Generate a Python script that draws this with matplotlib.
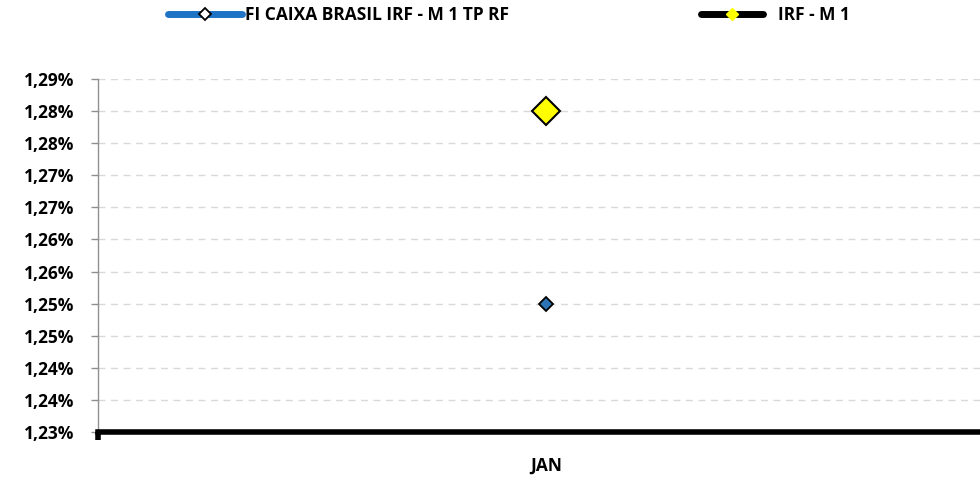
import matplotlib
matplotlib.use("Agg")
import matplotlib.pyplot as plt
from matplotlib.lines import Line2D
import matplotlib.markers as mmarkers

categories = ["JAN"]
fund_name = "FI CAIXA BRASIL IRF - M 1 TP RF"
bench_name = "IRF - M 1"
fund_values = [1.25]
bench_values = [1.28]
y_ticks = [1.230, 1.235, 1.240, 1.245, 1.250, 1.255, 1.260, 1.265, 1.270, 1.275, 1.280, 1.285]
y_tick_labels = ["1,23%", "1,24%", "1,24%", "1,25%", "1,25%", "1,26%", "1,26%",
                 "1,27%", "1,27%", "1,28%", "1,28%", "1,29%"]

plt.rcParams['font.family'] = ['Open Sans', 'DejaVu Sans']

fig = plt.figure(figsize=(9.8, 4.78), dpi=100)
W, H = 980, 478
left, right, top, bottom = 98, 980, 79, 432
ax = fig.add_axes([left / W, 1 - bottom / H, (right - left) / W, (bottom - top) / H])

x = list(range(len(categories)))
blue = "#1F73C4"
ax.plot(x, fund_values, color=blue, lw=4, marker="D", markersize=7,
        markerfacecolor="#2E75B6", markeredgecolor="black", markeredgewidth=1.3, zorder=5)
ax.plot(x, bench_values, color="black", lw=4, marker="D", markersize=14,
        markerfacecolor="#FFFF00", markeredgecolor="black", markeredgewidth=1.5, zorder=5)

ax.set_ylim(y_ticks[0], y_ticks[-1])
ax.set_yticks(y_ticks)
ax.set_yticklabels(y_tick_labels, fontsize=12.5, fontweight="bold")
ax.set_xlim(-0.508, 0.492)
ax.set_xticks(x)
ax.set_xticklabels(categories, fontsize=12.5, fontweight="bold")
ax.tick_params(axis="x", length=0, pad=18)
ax.tick_params(axis="y", direction="out", length=5, color="#909090", width=1, pad=12)

ax.grid(axis="y", color="#D9D9D9", linestyle=(0, (5, 4)), linewidth=1)
ax.set_axisbelow(True)
for s in ["top", "right"]:
    ax.spines[s].set_visible(False)
ax.spines["left"].set_color("#909090")
ax.spines["left"].set_linewidth(1)
ax.spines["bottom"].set_color("black")
ax.spines["bottom"].set_linewidth(4)
ax.spines["bottom"].set_zorder(6)

# small tick at left corner of the x axis
ax.plot([-0.508], [y_ticks[0]], marker=mmarkers.TICKDOWN, color="black",
        markersize=6, markeredgewidth=4, clip_on=False, zorder=7)

h1 = Line2D([], [], color=blue, lw=5, marker="D", markersize=6,
            markerfacecolor="white", markeredgecolor="black", markeredgewidth=1.3,
            solid_capstyle="round")
h2 = Line2D([], [], color="black", lw=5, marker="D", markersize=6,
            markerfacecolor="#FFFF00", markeredgecolor="#FFFF00",
            solid_capstyle="round")
fs = 12.5
fig.legend([h1], [fund_name], loc="center left", bbox_to_anchor=(152 / W, 1 - 15 / H),
           frameon=False, handlelength=74 / (fs * 100 / 72), handletextpad=0.2,
           prop={"weight": "bold", "size": fs})
fig.legend([h2], [bench_name], loc="center left", bbox_to_anchor=(685 / W, 1 - 15 / H),
           frameon=False, handlelength=62 / (fs * 100 / 72), handletextpad=0.9,
           prop={"weight": "bold", "size": fs})

fig.savefig("out.png", dpi=100)
